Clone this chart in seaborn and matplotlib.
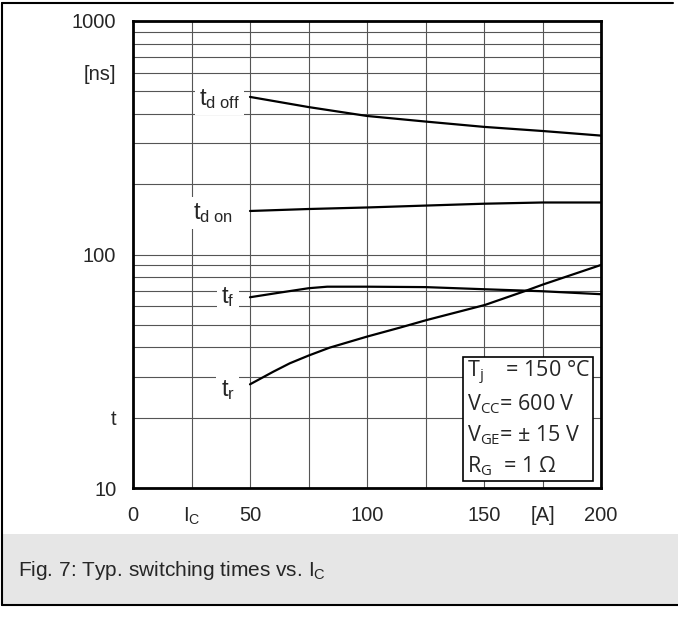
import numpy as np
import pandas as pd
import seaborn as sns
import matplotlib.pyplot as plt
from matplotlib.patches import Rectangle
from matplotlib.lines import Line2D

# switching times [ns] vs collector current [A]
ic_doff = [50, 75, 100, 125, 150, 175, 200]
t_d_off = [473, 428, 392, 371, 352, 338, 323]

ic_don = [50, 75, 100, 125, 150, 175, 200]
t_d_on = [153.6, 156.6, 159, 162, 165, 167, 167]

ic_f = [50, 62, 75, 83, 100, 125, 150, 168, 175, 200]
t_f = [65.6, 68.5, 71.7, 72.8, 72.8, 72.5, 71, 70, 69.6, 67.6]

ic_r = [50, 60, 67, 75, 84, 100, 114, 125.5, 150.4, 168, 175.4, 200]
t_r = [27.8, 31.5, 34.2, 36.9, 39.9, 44.5, 48.6, 52.4, 60.8, 70, 74.5, 90.2]

df = pd.concat([
    pd.DataFrame({'IC': ic_doff, 't': t_d_off, 'curve': 'tdoff'}),
    pd.DataFrame({'IC': ic_don, 't': t_d_on, 'curve': 'tdon'}),
    pd.DataFrame({'IC': ic_f, 't': t_f, 'curve': 'tf'}),
    pd.DataFrame({'IC': ic_r, 't': t_r, 'curve': 'tr'}),
])

sns.set_style('white')
plt.rcParams['font.family'] = ['Liberation Sans', 'DejaVu Sans']
plt.rcParams['mathtext.fontset'] = 'custom'
plt.rcParams['mathtext.rm'] = 'Liberation Sans'
plt.rcParams['mathtext.it'] = 'Liberation Sans'
plt.rcParams['mathtext.sf'] = 'Open Sans'

fig = plt.figure(figsize=(6.78, 6.17), dpi=100)
ax = fig.add_axes([133 / 678, 1 - 488 / 617, 468 / 678, 467 / 617])

sns.lineplot(data=df, x='IC', y='t', hue='curve', palette=['black'] * 4,
             linewidth=1.6, legend=False, ax=ax, zorder=3, sort=True)

ax.set_yscale('log')
ax.set_xlim(0, 200)
ax.set_ylim(10, 1000)

# grid: every 25 A, every log step
xt = [0, 25, 50, 75, 100, 125, 150, 175, 200]
xl = ['0', r'$\mathrm{I_C}$', '50', '', '100', '', '150', '[A]', '200']
ax.set_xticks(xt)
ax.set_xticklabels(xl)
yt = [m * 10 ** d for d in (1, 2) for m in range(1, 10)] + [1000]
yl = []
for v in yt:
    if v in (10, 100, 1000):
        yl.append(str(v))
    elif v == 20:
        yl.append('t')
    elif v == 600:
        yl.append('[ns]')
    else:
        yl.append('')
ax.set_yticks(yt)
ax.set_yticklabels(yl)
ax.minorticks_off()
ax.tick_params(axis='both', length=0, labelsize=14.5)
ax.tick_params(axis='x', pad=13)
ax.tick_params(axis='y', pad=12)
ax.grid(True, color='#555555', linewidth=0.8)
ax.set_xlabel('')
ax.set_ylabel('')
for s in ax.spines.values():
    s.set_linewidth(2)
    s.set_color('black')

# curve labels
box = dict(facecolor='white', edgecolor='none', pad=3)
ax.text(37, 464, r'$\mathrm{t_{d\ off}}$', fontsize=17, ha='center', va='center', bbox=box, zorder=4)
ax.text(34, 151, r'$\mathrm{t_{d\ on}}$', fontsize=17, ha='center', va='center', bbox=box, zorder=4)
ax.text(40.5, 66, r'$\mathrm{t_f}$', fontsize=17, ha='center', va='center', bbox=box, zorder=4)
ax.text(40.5, 26.3, r'$\mathrm{t_r}$', fontsize=17, ha='center', va='center', bbox=box, zorder=4)

# condition box
bx0 = (463 - 133) / 468
by0 = (488 - 481) / 467
ax.add_patch(Rectangle((bx0, by0), (593 - 463) / 468, (481 - 357) / 467,
                       transform=ax.transAxes, facecolor='white', edgecolor='black',
                       linewidth=1.2, zorder=5))
cond = [r'$\mathsf{T_j}$    = 150 °C', r'$\mathsf{V_{CC}}$= 600 V',
        r'$\mathsf{V_{GE}}$= ± 15 V', r'$\mathsf{R_G}$  = 1 Ω']
for i, line in enumerate(cond):
    yy = 488 - (373 + i * 31)
    ax.text((467 - 133) / 468, yy / 467, line, transform=ax.transAxes,
            fontsize=15.5, family='Open Sans', va='center', ha='left', zorder=6)

# caption band and frame
fig.patches.append(Rectangle((2 / 678, 1 - 605 / 617), 1, (605 - 534) / 617,
                             transform=fig.transFigure, facecolor='#e6e6e6',
                             edgecolor='none', zorder=0))
fig.lines.append(Line2D([2 / 678, 2 / 678], [1 - 605 / 617, 1 - 3 / 617], transform=fig.transFigure,
                        color='black', linewidth=1.5))
fig.lines.append(Line2D([2 / 678, 673 / 678], [1 - 3 / 617, 1 - 3 / 617], transform=fig.transFigure,
                        color='black', linewidth=1.5))
fig.lines.append(Line2D([2 / 678, 1], [1 - 605 / 617, 1 - 605 / 617], transform=fig.transFigure,
                        color='black', linewidth=1.5))
fig.text(18 / 678, 1 - 570 / 617, r'Fig. 7: Typ. switching times vs. $\mathrm{I_C}$',
         fontsize=15, va='center', ha='left')

fig.savefig('out.png', dpi=100)
